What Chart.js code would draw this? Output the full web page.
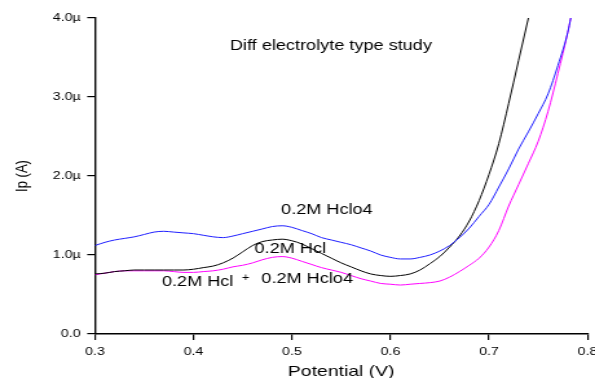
<!DOCTYPE html>
<html lang="en">
<head>
<meta charset="UTF-8">
<title>Diff electrolyte type study</title>
<script src="https://cdn.jsdelivr.net/npm/chart.js"></script>
<style>
    html, body {
        margin: 0;
        padding: 0;
        background: #fff;
        overflow: hidden;
    }
    /* the reference picture is stretched sideways, so the canvas is drawn narrow and stretched too */
    #chart {
        display: block;
        width: 595px !important;
        height: 378px !important;
    }
</style>
</head>
<body>

<canvas id="chart" width="460" height="378" style="width:595px;height:378px"></canvas>

<script>
    // potential (V) and peak current (µA)
    const potential = [
        0.30, 0.31, 0.32, 0.33, 0.34, 0.35, 0.36, 0.37, 0.38, 0.39,
        0.40, 0.41, 0.42, 0.43, 0.44, 0.45, 0.46, 0.47, 0.48, 0.49,
        0.50, 0.51, 0.52, 0.53, 0.54, 0.55, 0.56, 0.57, 0.58, 0.59,
        0.60, 0.61, 0.62, 0.63, 0.64, 0.65, 0.66, 0.67, 0.68, 0.69,
        0.70, 0.71, 0.72, 0.73, 0.74, 0.75, 0.76, 0.77, 0.78, 0.783
    ];
    const hclo4 = [
        1.12, 1.16, 1.19, 1.21, 1.23, 1.26, 1.29, 1.30, 1.29, 1.28,
        1.27, 1.25, 1.23, 1.22, 1.24, 1.27, 1.30, 1.33, 1.36, 1.37,
        1.35, 1.31, 1.27, 1.22, 1.19, 1.16, 1.13, 1.09, 1.05, 1.00,
        0.97, 0.95, 0.95, 0.97, 1.00, 1.05, 1.12, 1.22, 1.34, 1.49,
        1.64, 1.86, 2.09, 2.34, 2.56, 2.79, 3.04, 3.40, 3.82, 4.00
    ];
    const hcl = [
        0.76, 0.77, 0.79, 0.80, 0.81, 0.81, 0.81, 0.81, 0.81, 0.81,
        0.82, 0.84, 0.86, 0.90, 0.96, 1.04, 1.12, 1.17, 1.19, 1.20,
        1.18, 1.14, 1.08, 1.02, 0.96, 0.90, 0.85, 0.80, 0.76, 0.74,
        0.73, 0.74, 0.76, 0.81, 0.89, 0.98, 1.10, 1.24, 1.43, 1.69,
        2.02, 2.41, 2.92, 3.46, 4.00, null, null, null, null, null
    ];
    const mixed = [
        0.75, 0.77, 0.79, 0.80, 0.80, 0.80, 0.80, 0.80, 0.79, 0.78,
        0.78, 0.79, 0.80, 0.82, 0.85, 0.87, 0.90, 0.94, 0.97, 0.98,
        0.96, 0.92, 0.88, 0.84, 0.81, 0.78, 0.74, 0.70, 0.67, 0.64,
        0.63, 0.62, 0.63, 0.64, 0.65, 0.67, 0.72, 0.79, 0.87, 0.96,
        1.10, 1.31, 1.62, 1.89, 2.16, 2.44, 2.82, 3.30, 3.82, 4.00
    ];

    const FONT = '"Liberation Sans", Arial, sans-serif';

    // text written on the plot, placed in data units
    const notes = [
        { text: 'Diff electrolyte type study', v: 0.437, i: 3.65, size: 14 },
        { text: '0.2M Hclo4', v: 0.489, i: 1.57, size: 14 },
        { text: '0.2M Hcl', v: 0.462, i: 1.08, size: 14 },
        { text: '0.2M Hcl', v: 0.368, i: 0.66, size: 14 },
        { text: '+', v: 0.453, i: 0.71, size: 10, align: 'center' },
        { text: '0.2M Hclo4', v: 0.469, i: 0.69, size: 14 }
    ];

    function points(ys) {
        return potential.map((v, k) => ({ x: v, y: ys[k] }));
    }

    const notesPlugin = {
        id: 'notes',
        afterDatasetsDraw(chart) {
            const ctx = chart.ctx;
            const xs = chart.scales.x;
            const ys = chart.scales.y;
            ctx.save();
            ctx.fillStyle = '#000';
            ctx.textBaseline = 'middle';
            notes.forEach(n => {
                ctx.font = n.size + 'px ' + FONT;
                ctx.textAlign = n.align || 'left';
                ctx.fillText(n.text, xs.getPixelForValue(n.v), ys.getPixelForValue(n.i));
            });
            ctx.restore();
        }
    };

    Chart.defaults.font.family = FONT;
    Chart.defaults.color = '#000';

    new Chart(document.getElementById('chart').getContext('2d'), {
        type: 'line',
        data: {
            datasets: [
                { label: '0.2M Hclo4', data: points(hclo4), borderColor: '#1f1fff' },
                { label: '0.2M Hcl', data: points(hcl), borderColor: '#000000' },
                { label: '0.2M Hcl + 0.2M Hclo4', data: points(mixed), borderColor: '#ff00ff' }
            ]
        },
        options: {
            responsive: false,
            devicePixelRatio: 1,
            animation: false,
            events: [],
            layout: { padding: { top: 18, right: 5.8, bottom: 0, left: 0 } },
            elements: {
                point: { radius: 0 },
                line: { borderWidth: 1, cubicInterpolationMode: 'monotone', fill: false }
            },
            plugins: {
                legend: { display: false },
                tooltip: { enabled: false }
            },
            scales: {
                x: {
                    type: 'linear',
                    min: 0.3,
                    max: 0.8,
                    border: { color: '#000', width: 1.4 },
                    grid: { drawOnChartArea: false, drawTicks: true, tickLength: 6, color: '#000', lineWidth: 1.2 },
                    ticks: {
                        stepSize: 0.1,
                        padding: 5,
                        maxRotation: 0,
                        font: { size: 11 },
                        callback: v => v.toFixed(1)
                    },
                    title: { display: true, text: 'Potential (V)', font: { size: 15 }, padding: { top: 0, bottom: -3 } },
                    afterFit: s => { s.height = 44; s.paddingLeft = 0; s.paddingRight = 0; }
                },
                y: {
                    type: 'linear',
                    min: 0,
                    max: 4,
                    border: { color: '#000', width: 1.4 },
                    grid: { drawOnChartArea: false, drawTicks: true, tickLength: 6, color: '#000', lineWidth: 1.2 },
                    ticks: {
                        stepSize: 1,
                        padding: 5,
                        font: { size: 11 },
                        callback: v => v === 0 ? '0.0' : v.toFixed(1) + 'µ'
                    },
                    title: { display: true, text: 'Ip (A)', font: { size: 13 }, padding: { top: 10, bottom: 0 } },
                    afterFit: s => { s.width = 73.4; s.paddingTop = 0; s.paddingBottom = 0; }
                }
            }
        },
        plugins: [notesPlugin]
    });
</script>

</body>
</html>
